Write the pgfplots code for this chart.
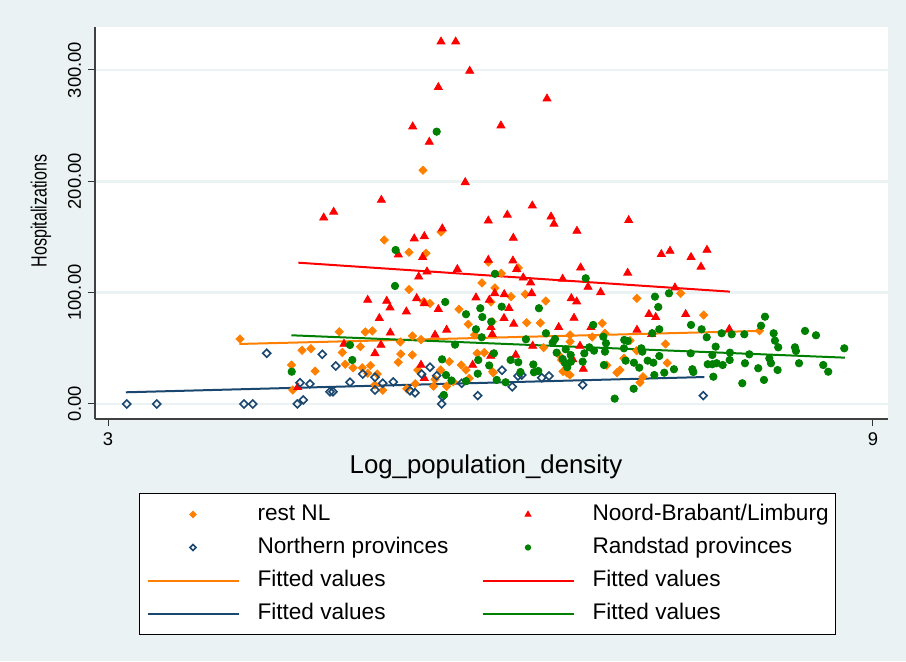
\documentclass[border=0pt]{standalone}
\usepackage{fontspec}
\setmainfont{Liberation Sans}
\usepackage{graphicx}
\usepackage{pgfplots}
\pgfplotsset{compat=1.18}
\definecolor{bgc}{RGB}{234,242,243}
\definecolor{sorange}{RGB}{255,128,0}
\definecolor{sred}{RGB}{255,0,0}
\definecolor{snavy}{RGB}{26,71,111}
\definecolor{sgreen}{RGB}{0,128,0}
\pgfplotsset{
 markleg/.style={legend image code/.code={\path[draw=none,fill=none] (0pt,0pt) -- (45.5pt,0pt); \path[##1, mark size=#1] plot[only marks] coordinates {(22.75pt,0pt)};}},
 lineleg/.style={legend image code/.code={\draw[##1] (0pt,0pt) -- (45.5pt,0pt);}},
}
\begin{document}
\begin{tikzpicture}
\fill[bgc] (0,0) rectangle (453pt,330.5pt);
\begin{axis}[
 at={(47.5pt,121pt)}, anchor=south west,
 scale only axis, width=396.5pt, height=196pt,
 xmin=2.898, xmax=9.118, ymin=-13.5, ymax=338.6,
 axis background/.style={fill=white},
 axis x line*=bottom, axis y line*=left,
 axis line style={black!75, line width=0.6pt, -},
 xtick={3,9}, xticklabels={3,9},
 ytick={0,100,200,300}, yticklabels={0.00,100.00,200.00,300.00},
 /pgf/number format/assume math mode=true,
 tick align=outside, major tick length=3.5pt,
 tick style={black!80, line width=0.5pt},
 ymajorgrids, grid style={bgc, line width=1.2pt},
 ticklabel style={font=\fontsize{9.2}{11}\selectfont},
 yticklabel style={rotate=90, anchor=south},
 xlabel={Log\_population\_density}, ylabel={\scalebox{0.73}[1]{Hospitalizations}},
 xlabel style={font=\fontsize{12.9}{14}\selectfont, at={(axis description cs:0.493,-0.1224)}, anchor=center},
 ylabel style={font=\fontsize{11}{13}\selectfont, at={(axis description cs:-0.0681,0.5306)}, anchor=center},
 legend columns=2,
 legend cell align=left,
 legend style={at={(axis description cs:0.0555,-0.1888)}, anchor=north west,
   draw=black, line width=0.5pt, fill=white,
   font=\fontsize{11.3}{13}\selectfont,
   inner xsep=3.5pt, inner ysep=4.5pt, row sep=4.5pt,
   nodes={inner sep=0pt, text height=9pt, text depth=3pt},
   /tikz/every odd column/.append style={column sep=9pt}},
]
% rest NL
\addplot[only marks, mark=square*, mark size=1.45pt, color=sorange,
  mark options={rotate=45, fill=sorange, draw=sorange}, markleg=1.1pt]
 table {
5.471 209.9
5.167 147.3
5.612 154.5
5.361 136.3
5.494 135.4
5.361 102.8
5.983 127.5
6.218 122.2
6.085 117.4
5.933 108.7
6.035 104.2
5.525 90.3
5.475 91.9
5.753 85.1
5.826 71.6
5.875 62.0
4.814 64.9
5.018 64.7
5.073 65.6
4.979 51.5
5.293 55.7
5.388 61.1
5.455 57.8
4.035 58.4
4.522 48.2
4.592 49.7
4.838 46.3
5.296 44.9
5.387 44.0
5.277 37.5
5.677 38.0
5.771 35.0
5.808 30.5
5.896 45.5
4.439 35.0
4.624 29.5
4.861 35.7
4.922 32.5
4.994 32.5
5.059 34.6
5.037 27.6
5.112 26.9
5.430 30.5
5.565 22.2
5.609 30.5
5.553 15.9
5.656 15.9
5.410 18.2
5.343 13.7
5.155 12.3
4.449 12.6
5.708 20.0
5.094 17.1
6.161 96.4
6.004 91.6
6.273 98.5
6.434 92.5
6.284 73.0
6.391 72.8
6.417 50.6
5.951 46.1
6.017 29.0
5.834 23.1
6.569 29.2
6.600 27.8
6.014 73.9
6.624 62.0
6.624 56.0
6.798 60.2
6.877 72.5
6.898 63.5
6.537 44.0
6.558 39.5
7.047 41.0
7.148 94.9
7.672 79.9
7.492 99.4
7.373 53.9
7.387 36.8
7.094 57.0
7.147 47.9
7.016 30.5
6.992 28.1
7.196 24.5
7.173 19.3
6.022 28.1
6.624 26.0
6.912 34.8
8.110 65.7
};
\addlegendentry{\makebox[112pt][l]{rest NL}}
% Noord-Brabant/Limburg
\addplot[only marks, mark=triangle*, mark size=2.3pt, color=sred,
  mark options={fill=sred, draw=sred}, markleg=1.6pt]
 table {
5.612 325.4
5.727 325.4
5.837 299.1
5.591 284.5
5.390 249.1
5.520 235.3
6.443 274.2
6.082 250.0
5.802 199.1
5.144 183.2
4.692 167.3
4.770 172.5
5.622 157.5
5.402 148.5
5.481 150.6
5.983 164.6
6.328 178.1
6.132 169.8
6.475 168.2
6.498 161.7
6.179 149.1
6.678 155.4
7.084 165.0
5.277 134.1
5.468 131.8
5.437 114.3
5.502 118.8
5.983 129.3
6.176 128.7
6.205 121.0
5.740 121.0
6.257 113.4
6.315 109.0
6.566 112.3
7.340 134.5
7.408 137.4
7.573 131.8
7.698 138.3
7.651 123.1
6.707 122.4
7.076 117.7
6.765 105.1
7.447 104.5
6.864 100.3
6.323 99.4
6.033 99.4
6.108 98.5
6.145 86.0
6.634 94.9
6.676 91.9
6.182 71.9
6.106 77.0
6.004 68.9
6.014 62.6
6.535 68.9
6.655 77.2
6.788 68.9
7.243 80.6
7.296 77.9
7.531 80.6
7.149 66.5
7.264 62.6
7.873 67.1
6.331 52.1
6.702 52.1
6.002 43.1
6.198 44.0
6.645 40.1
6.728 31.4
5.037 93.4
5.186 92.5
5.212 86.5
5.421 94.9
5.481 90.4
5.340 82.9
5.591 85.1
5.886 95.5
5.991 93.4
5.128 77.0
5.656 66.5
5.214 64.0
5.565 62.0
4.851 53.9
5.141 53.0
5.094 45.5
5.455 35.0
5.860 35.0
5.481 23.1
4.488 15.0
};
\addlegendentry{Noord-Brabant/Limburg}
% Northern provinces
\addplot[only marks, mark=square, mark size=1.4pt, color=snavy,
  mark options={rotate=45, draw=snavy, fill=white, line width=0.8pt}, markleg=1.05pt]
 table {
3.147 0
3.382 0
4.067 0
4.135 0
4.245 45.5
4.485 0
4.532 3.6
4.506 19.1
4.584 18.0
4.681 44.6
4.741 11.0
4.765 11.0
4.786 34.1
4.898 19.5
4.998 26.9
5.094 24.0
5.094 12.6
5.155 18.6
5.238 19.8
5.369 11.9
5.408 10.1
5.460 26.9
5.525 33.0
5.578 25.4
5.617 0
5.625 6.6
5.774 18.6
5.900 7.5
6.090 30.3
6.171 15.5
6.216 25.1
6.245 26.0
6.402 23.6
6.459 25.1
6.723 17.1
7.669 7.5
};
\addlegendentry{\makebox[112pt][l]{Northern provinces}}
% Randstad provinces
\addplot[only marks, mark=*, mark size=1.85pt, color=sgreen,
  mark options={fill=sgreen, draw=sgreen}, markleg=1.3pt]
 table {
5.578 244.6
5.256 138.3
5.251 106.0
5.645 91.6
5.808 80.6
5.920 86.0
5.936 78.1
5.886 67.1
5.931 59.9
5.722 53.3
4.898 53.0
4.916 39.5
5.620 40.1
5.651 26.0
5.694 21.1
5.808 20.5
5.900 27.2
5.904 39.5
5.990 34.6
4.441 29.0
5.634 8.1
6.035 116.9
6.088 87.4
6.380 86.0
6.006 73.9
6.435 63.5
6.506 58.4
6.488 55.1
6.278 58.1
6.590 49.1
6.519 46.1
6.027 45.5
6.158 39.5
6.218 37.5
6.336 35.5
6.235 28.7
6.375 29.6
6.566 40.4
6.584 36.8
6.602 33.0
6.049 21.6
6.119 19.5
6.747 112.9
7.290 96.4
7.400 99.4
7.316 87.1
6.806 71.0
6.885 60.4
6.906 54.5
6.775 50.9
7.049 57.5
7.076 56.6
7.047 50.0
7.183 50.0
7.191 47.0
7.269 63.5
7.324 67.1
7.573 71.0
7.656 67.1
7.696 59.9
7.766 51.5
7.813 63.5
7.892 62.6
7.991 62.6
8.122 70.3
8.153 78.4
8.221 63.5
8.231 56.9
8.257 50.9
8.467 65.6
8.553 61.7
8.775 50.0
8.388 50.9
8.396 47.6
6.629 44.0
6.631 38.0
6.736 45.5
6.812 47.9
6.898 47.0
6.723 38.0
6.890 35.0
7.060 38.9
7.125 37.1
7.167 32.6
7.233 38.9
7.277 37.1
7.324 43.1
7.363 28.1
7.439 31.2
7.285 26.0
7.570 45.5
7.583 31.2
7.591 28.7
7.740 44.0
7.740 35.7
7.704 35.7
7.774 36.6
7.821 35.0
7.878 46.1
7.876 39.5
7.748 24.5
7.996 36.6
8.030 44.6
8.100 32.1
8.145 21.6
8.187 41.0
8.200 36.6
8.252 30.5
8.420 36.6
8.610 35.0
8.649 29.0
7.975 18.6
7.123 13.7
6.974 4.8
6.341 28.5
};
\addlegendentry{Randstad provinces}
% fitted lines
\addplot[sorange, line width=1pt, no marks, lineleg]
 table {
4.030 53.9
8.114 65.6
};
\addlegendentry{\makebox[112pt][l]{Fitted values}}
\addplot[sred, line width=1pt, no marks, lineleg]
 table {
4.493 126.9
7.878 100.9
};
\addlegendentry{Fitted values}
\addplot[snavy, line width=1pt, no marks, lineleg]
 table {
3.141 10.5
7.677 24.2
};
\addlegendentry{\makebox[112pt][l]{Fitted values}}
\addplot[sgreen, line width=1pt, no marks, lineleg]
 table {
4.438 61.7
8.780 41.6
};
\addlegendentry{Fitted values}
\end{axis}
\pgfresetboundingbox
\useasboundingbox (0,0) rectangle (453pt,330.5pt);
\end{tikzpicture}
\end{document}
